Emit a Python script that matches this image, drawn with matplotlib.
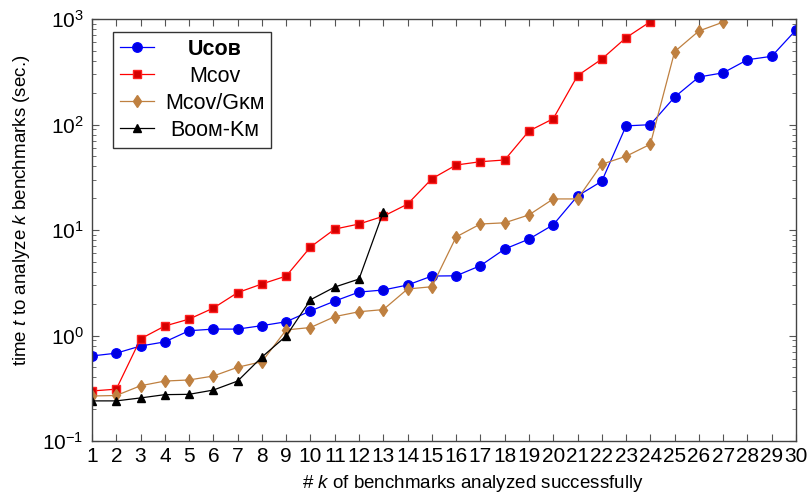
import matplotlib
matplotlib.use("Agg")
import matplotlib.pyplot as plt
from matplotlib.ticker import LogLocator, NullFormatter

plt.rcParams['font.family'] = ['Liberation Sans', 'DejaVu Sans']
plt.rcParams['mathtext.fontset'] = 'custom'
plt.rcParams['mathtext.rm'] = 'Liberation Sans'
plt.rcParams['mathtext.it'] = 'Liberation Sans:italic'

k_ucob = list(range(1, 31))
t_ucob = [0.64, 0.68, 0.795, 0.87, 1.11, 1.15, 1.15, 1.24, 1.35, 1.71,
          2.12, 2.58, 2.70, 3.01, 3.66, 3.68, 4.59, 6.6, 8.2, 11.2,
          21, 29, 97, 99.6, 182, 282, 309, 411, 443, 787]

k_mcov = list(range(1, 25))
t_mcov = [0.298, 0.31, 0.93, 1.23, 1.43, 1.82, 2.55, 3.08, 3.66, 6.9,
          10.2, 11.4, 13.5, 17.6, 30.6, 41.3, 44.4, 46.1, 86.8, 113.5,
          290, 417, 665, 943]

k_gkm = list(range(1, 28))
t_gkm = [0.267, 0.27, 0.334, 0.37, 0.379, 0.413, 0.50, 0.565, 1.13, 1.19,
         1.51, 1.68, 1.76, 2.76, 2.9, 8.6, 11.4, 11.7, 13.9, 19.7,
         19.7, 42, 50, 65, 490, 770, 935]

k_boom = list(range(1, 14))
t_boom = [0.24, 0.24, 0.256, 0.275, 0.277, 0.304, 0.37, 0.625, 0.99, 2.18,
          2.88, 3.43, 14.8]

labels = ["U\u1d04\u1d0f\u0299", "M\u1d04\u1d0f\u1d20",
          "M\u1d04\u1d0f\u1d20/G\u1d0b\u1d0d", "B\u1d0f\u1d0f\u1d0d-K\u1d0d"]
xticklabels = [str(i) for i in range(1, 31)]

W, H = 810, 497
fig = plt.figure(figsize=(W/100, H/100), dpi=100)
ax = fig.add_axes([92/W, 1-441/H, (796-92)/W, (441-19)/H])

ax.plot(k_ucob, t_ucob, color='#0000ff', lw=0.9, marker='o', ms=6.8,
        mfc='#0000e0', mec='#0000ff', label=labels[0])
ax.plot(k_mcov, t_mcov, color='#ff0000', lw=0.9, marker='s', ms=6.2,
        mfc='#d40000', mec='#ff2020', label=labels[1])
ax.plot(k_gkm, t_gkm, color='#bf8040', lw=0.9, marker='d', ms=6,
        mfc='#bf8040', mec='#bf8040', label=labels[2])
ax.plot(k_boom, t_boom, color='#000000', lw=0.9, marker='^', ms=5.6,
        mfc='#000000', mec='#000000', label=labels[3])

ax.set_yscale('log')
ax.set_ylim(0.1, 1000)
ax.set_xlim(1, 30)
ax.set_xticks(k_ucob)
ax.set_xticklabels(xticklabels)
ax.yaxis.set_major_locator(LogLocator(base=10, numticks=10))
ax.yaxis.set_minor_locator(LogLocator(base=10, subs=range(2, 10), numticks=20))
ax.yaxis.set_minor_formatter(NullFormatter())

ax.tick_params(which='both', direction='in', top=True, right=True,
               labelsize=15, color='#555555')
ax.tick_params(which='major', length=5)
ax.tick_params(which='minor', length=3)
ax.tick_params(axis='x', pad=4)
ax.tick_params(axis='y', pad=6)
for s in ax.spines.values():
    s.set_color('#444444')
    s.set_linewidth(1.0)

ax.set_xlabel(r'$\#$ $k$ of benchmarks analyzed successfully', fontsize=13.5)
ax.set_ylabel(r'time $t$ to analyze $k$ benchmarks (sec.)', fontsize=13.5)
ax.xaxis.set_label_coords((473-92)/704, (441-473)/422)
ax.yaxis.set_label_coords((32-92)/704, (441-210)/422)

leg = ax.legend(loc='upper left', bbox_to_anchor=((113-92)/704, (441-32)/422),
                borderaxespad=0, fontsize=15.5,
                frameon=True, fancybox=False, edgecolor='black',
                handlelength=1.6, borderpad=0.32, labelspacing=0.28,
                handletextpad=0.5)
leg.get_frame().set_linewidth(1.0)
texts = leg.get_texts()
for t in texts:
    t.set_family(['Liberation Sans', 'DejaVu Sans'])
texts[0].set_fontweight('bold')

# centre the legend entries in their column
fig.canvas.draw()
r = fig.canvas.get_renderer()
widths = [t.get_window_extent(r).width for t in texts]
wmax = max(widths)
for t, w in zip(texts, widths):
    t.set_position(((wmax - w) / 2, 0))

fig.savefig('out.png', dpi=100)
